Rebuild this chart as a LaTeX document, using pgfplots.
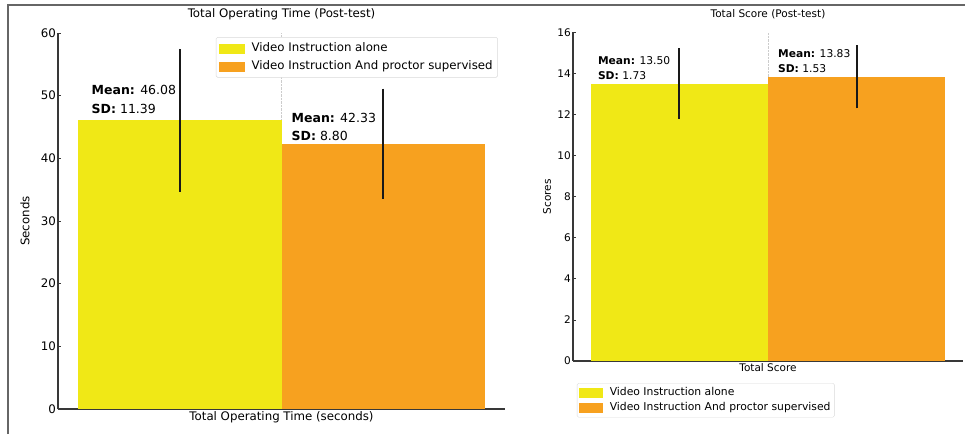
\documentclass[border=0pt]{standalone}
\usepackage{pgfplots}
\pgfplotsset{compat=1.18}
\usepackage{fontspec}
\setmainfont{DejaVu Sans}
\definecolor{cyel}{RGB}{240,232,22}
\definecolor{corg}{RGB}{247,161,31}
\begin{document}
\begin{tikzpicture}[x=1pt,y=1pt]
\pgfplotsset{
  panel/.style={
    scale only axis,
    axis x line*=bottom, axis y line*=left,
    axis line style={-, line width=1.1pt, color=black!78},
    tick align=inside,
    tick style={black!78, line width=0.8pt},
    major tick length=3pt,
    xmin=-1.1, xmax=1.1, ymin=0,
    xtick={0},
    xmajorgrids,
    grid style={densely dotted, black!20, line width=0.5pt},
    /pgf/number format/assume math mode=true,
    legend cell align=left,
  },
}
% frame
\draw[black!60, line width=1.3pt] (8,0) -- (8,429) -- (965,429);

% ---------- Left panel ----------
\begin{axis}[panel,
  at={(58pt,25pt)}, anchor=south west,
  width=447pt, height=376pt,
  ymax=60, ytick={0,10,...,60},
  xticklabels={Total Operating Time (seconds)},
  xticklabel style={font=\fontsize{11.8}{14}\selectfont, inner sep=1pt, yshift=-1pt},
  yticklabel style={font=\fontsize{11.8}{14}\selectfont, inner sep=2pt},
  ylabel={Seconds},
  ylabel style={at={(axis description cs:-0.074,0.5)}, anchor=center, font=\fontsize{11.8}{14}\selectfont},
  title={Total Operating Time (Post-test)},
  title style={at={(axis description cs:0.5,1.034)}, anchor=center, font=\fontsize{11.8}{14}\selectfont},
  legend style={at={(0.984,0.989)}, anchor=north east,
    draw=black!15, rounded corners=1.5pt, fill=white, inner sep=3pt,
    font=\fontsize{11.8}{14}\selectfont,
    nodes={inner sep=2pt, text height=9pt, text depth=3pt},
    row sep=2pt, column sep=5pt},
]
\addplot[ybar, bar width=1, fill=cyel, draw=none, forget plot,
  error bars/.cd, y dir=both, y explicit, error mark=none,
  error bar style={line width=1.8pt, black!90}]
  coordinates {(-0.5,46.08) +- (0,11.39)};
\addplot[ybar, bar width=1, fill=corg, draw=none, forget plot,
  error bars/.cd, y dir=both, y explicit, error mark=none,
  error bar style={line width=1.8pt, black!90}]
  coordinates {(0.5,42.33) +- (0,8.80)};
\addlegendimage{legend image code/.code={\fill[cyel, sharp corners] (0pt,-4.5pt) rectangle (25pt,4.5pt);}}
\addlegendentry{Video Instruction alone}
\addlegendimage{legend image code/.code={\fill[corg, sharp corners] (0pt,-4.5pt) rectangle (25pt,4.5pt);}}
\addlegendentry{Video Instruction And proctor supervised}
\node[anchor=west, inner sep=0pt, font=\fontsize{12.5}{15}\selectfont] at (axis cs:-0.935,50.9) {\textbf{Mean:} 46.08};
\node[anchor=west, inner sep=0pt, font=\fontsize{12.5}{15}\selectfont] at (axis cs:-0.935,47.87) {\textbf{SD:} 11.39};
\node[anchor=west, inner sep=0pt, font=\fontsize{12.5}{15}\selectfont] at (axis cs:0.049,46.43) {\textbf{Mean:} 42.33};
\node[anchor=west, inner sep=0pt, font=\fontsize{12.5}{15}\selectfont] at (axis cs:0.049,43.56) {\textbf{SD:} 8.80};
\end{axis}

% ---------- Right panel ----------
\begin{axis}[panel,
  at={(573pt,73pt)}, anchor=south west,
  width=390pt, height=328.7pt,
  ymax=16, ytick={0,2,...,16},
  xticklabels={Total Score},
  xticklabel style={font=\fontsize{10.5}{12.5}\selectfont, inner sep=1pt, yshift=-1pt},
  yticklabel style={font=\fontsize{10.5}{12.5}\selectfont, inner sep=2pt},
  ylabel={Scores},
  ylabel style={at={(axis description cs:-0.0667,0.5)}, anchor=center, font=\fontsize{10.5}{12.5}\selectfont},
  title={Total Score (Post-test)},
  title style={at={(axis description cs:0.5,1.036)}, anchor=center, font=\fontsize{10.5}{12.5}\selectfont},
  legend style={at={(0.01,-0.067)}, anchor=north west,
    draw=black!15, rounded corners=1.5pt, fill=white, inner sep=2.3pt,
    font=\fontsize{10.8}{13}\selectfont,
    nodes={inner sep=1.5pt, text height=8pt, text depth=2.7pt},
    row sep=2pt, column sep=5.5pt},
]
\addplot[ybar, bar width=1, fill=cyel, draw=none, forget plot,
  error bars/.cd, y dir=both, y explicit, error mark=none,
  error bar style={line width=1.8pt, black!90}]
  coordinates {(-0.5,13.50) +- (0,1.73)};
\addplot[ybar, bar width=1, fill=corg, draw=none, forget plot,
  error bars/.cd, y dir=both, y explicit, error mark=none,
  error bar style={line width=1.8pt, black!90}]
  coordinates {(0.5,13.83) +- (0,1.53)};
\addlegendimage{legend image code/.code={\fill[cyel, sharp corners] (0pt,-4.5pt) rectangle (23pt,4.5pt);}}
\addlegendentry{Video Instruction alone}
\addlegendimage{legend image code/.code={\fill[corg, sharp corners] (0pt,-4.5pt) rectangle (23pt,4.5pt);}}
\addlegendentry{Video Instruction And proctor supervised}
\node[anchor=west, inner sep=0pt, font=\fontsize{10.7}{13}\selectfont] at (axis cs:-0.96,14.6) {\textbf{Mean:} 13.50};
\node[anchor=west, inner sep=0pt, font=\fontsize{10.7}{13}\selectfont] at (axis cs:-0.96,13.87) {\textbf{SD:} 1.73};
\node[anchor=west, inner sep=0pt, font=\fontsize{10.7}{13}\selectfont] at (axis cs:0.056,14.95) {\textbf{Mean:} 13.83};
\node[anchor=west, inner sep=0pt, font=\fontsize{10.7}{13}\selectfont] at (axis cs:0.056,14.22) {\textbf{SD:} 1.53};
\end{axis}
\pgfresetboundingbox
\path[use as bounding box] (0,0) rectangle (965,434);
\end{tikzpicture}
\end{document}
